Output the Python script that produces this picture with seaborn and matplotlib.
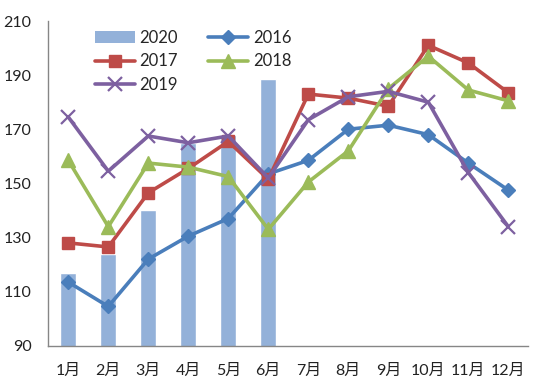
import matplotlib
matplotlib.use("Agg")
import matplotlib.pyplot as plt
import seaborn as sns
from matplotlib.lines import Line2D
from matplotlib.patches import Patch

months = ["1月", "2月", "3月", "4月", "5月", "6月", "7月", "8月", "9月", "10月", "11月", "12月"]
months_2020 = ["1月", "2月", "3月", "4月", "5月", "6月"]
v2020 = [117, 124, 140, 165, 168, 188.5]
v2016 = [113.5, 104.5, 122, 130.5, 137, 153.5, 158.5, 170, 171.5, 168, 157.5, 147.5]
v2017 = [128, 126.5, 146.5, 155.5, 165.5, 151.5, 183, 181.5, 178.5, 201, 194.5, 183.5]
v2018 = [158.5, 134, 157.5, 156, 152.5, 133, 150.5, 162, 185, 197, 184.5, 180.5]
v2019 = [174.5, 154.5, 167.5, 165, 167.5, 152, 173.5, 182, 184, 180, 154, 134]
yticks = [90, 110, 130, 150, 170, 190, 210]

c2020 = "#93B1D9"
c2016 = "#4A7EBB"
c2017 = "#BE4B48"
c2018 = "#9BBB59"
c2019 = "#7D60A0"

sns.set_style("white")
plt.rcParams["font.family"] = ["Lato", "Noto Sans CJK SC", "DejaVu Sans"]

fig = plt.figure(figsize=(5.5, 3.84), dpi=100)
ax = fig.add_axes([0.0878, 0.0997, 0.9606 - 0.0878, 0.9453 - 0.0997])

sns.barplot(x=months_2020, y=v2020, order=months, color=c2020, width=0.4,
            saturation=1, ax=ax, zorder=1)

series = [
    ("2016", v2016, c2016, "D", 7.5, 1.0),
    ("2017", v2017, c2017, "s", 9.0, 1.0),
    ("2018", v2018, c2018, "^", 9.5, 1.0),
    ("2019", v2019, c2019, "x", 10.0, 1.6),
]
for name, vals, col, mk, ms, mew in series:
    sns.pointplot(x=months, y=vals, order=months, color=col, markers=mk,
                  linestyles="-", errorbar=None, ax=ax,
                  markersize=ms, linewidth=2.6, markeredgewidth=mew,
                  markeredgecolor=col, zorder=3)

ax.set_ylim(90, 210)
ax.set_yticks(yticks)
ax.set_xlim(-0.5, 11.5)
ax.set_xlabel("")
ax.set_ylabel("")

ax.set_xticks([i - 0.5 for i in range(13)], minor=True)
ax.tick_params(axis="x", which="major", length=0, pad=13, labelsize=11.5, colors="#222222")
ax.tick_params(axis="x", which="minor", length=5, width=1, color="#868686", direction="out")
ax.tick_params(axis="y", which="major", length=5, width=1, color="#868686",
               direction="out", pad=7, labelsize=11.5, labelcolor="#222222")

for s in ["top", "right"]:
    ax.spines[s].set_visible(False)
for s in ["left", "bottom"]:
    ax.spines[s].set_color("#868686")
    ax.spines[s].set_linewidth(1)
ax.grid(False)

handles = [
    Patch(facecolor=c2020, edgecolor="none"),
    Line2D([], [], color=c2017, marker="s", markersize=9, lw=2.6, mec=c2017),
    Line2D([], [], color=c2019, marker="x", markersize=10, lw=2.6, mew=1.6, mec=c2019),
    Line2D([], [], color=c2016, marker="D", markersize=7.5, lw=2.6, mec=c2016),
    Line2D([], [], color=c2018, marker="^", markersize=9.5, lw=2.6, mec=c2018),
]
labels = ["2020", "2017", "2019", "2016", "2018"]
ax.legend(handles, labels, ncol=2, loc="upper left", bbox_to_anchor=(0.172, 0.922),
          bbox_transform=fig.transFigure, frameon=False, handlelength=2.4,
          handletextpad=0.3, columnspacing=1.8, labelspacing=0.45, borderpad=0,
          borderaxespad=0, fontsize=12)

fig.savefig("out.png", dpi=100)
